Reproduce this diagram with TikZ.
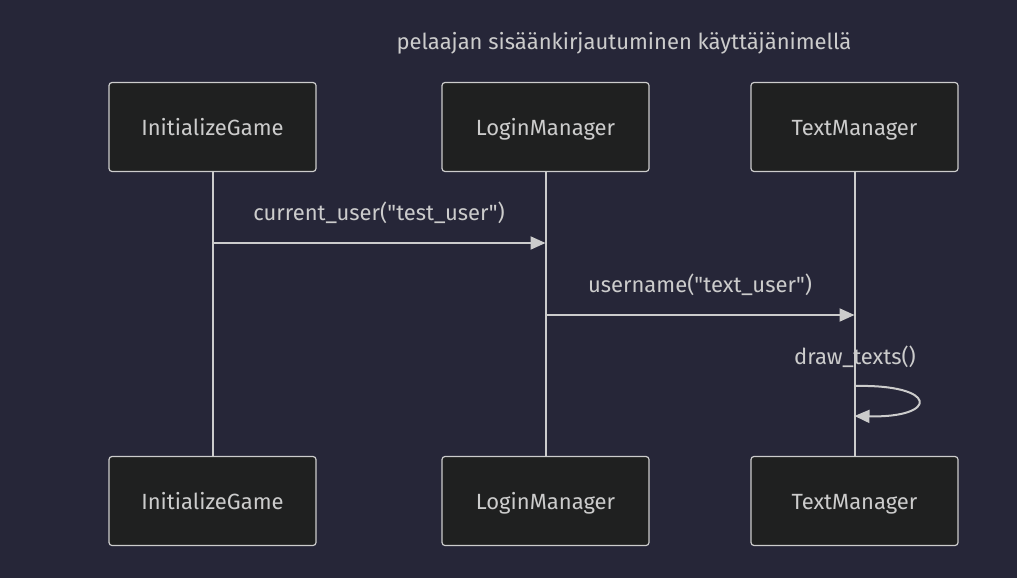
\documentclass[tikz,border=0pt]{standalone}
\usepackage{fontspec}
\setmainfont{Fira Sans}[Ligatures=TeXOff]
\usetikzlibrary{arrows.meta}
\definecolor{bgclr}{RGB}{38,38,56}
\definecolor{boxfill}{RGB}{31,32,32}
\definecolor{lineclr}{RGB}{204,204,204}
\begin{document}
\begin{tikzpicture}[x=1pt,y=-1pt,
    actor/.style={draw=lineclr,fill=boxfill,rounded corners=3pt,line width=1.2pt,
        minimum width=207pt,minimum height=89pt,text=lineclr,
        text height=21pt,text depth=5pt,
        font=\fontsize{22}{26}\selectfont},
    life/.style={draw=lineclr,line width=2pt},
    msg/.style={draw=lineclr,line width=2pt,-{Triangle[length=15pt,width=13pt]}},
    lbl/.style={text=lineclr,font=\fontsize{22}{26}\selectfont}]
        \fill[bgclr] (0,0) rectangle (1017,578);
        \useasboundingbox (0,0) rectangle (1017,578);
        \node[lbl] (title) at (624,43) {pelaajan sisäänkirjautuminen käyttäjänimellä};
        % actors
        \node[actor] (igtop) at (212.5,127) {InitializeGame};
        \node[actor] (lmtop) at (545.5,127) {LoginManager};
        \node[actor] (tmtop) at (854.5,127) {TextManager};
        \node[actor] (igbot) at (212.5,501) {InitializeGame};
        \node[actor] (lmbot) at (545.5,501) {LoginManager};
        \node[actor] (tmbot) at (854.5,501) {TextManager};
        % lifelines
        \draw[life] (igtop) -- (igbot);
        \draw[life] (lmtop) -- (lmbot);
        \draw[life] (tmtop) -- (tmbot);
        % messages
        \coordinate (m1from) at (igtop.south |- 0,243);
        \coordinate (m1to) at (lmtop.south |- 0,243);
        \coordinate (m2from) at (lmtop.south |- 0,315);
        \coordinate (m2to) at (tmtop.south |- 0,315);
        \coordinate (m3from) at (tmtop.south |- 0,386);
        \coordinate (m3to) at (tmtop.south |- 0,416);
        \draw[msg] (m1from) -- (m1to)
            node[lbl,pos=0.5,anchor=center,yshift=30pt] (m1) {current\_user("test\_user")};
        \draw[msg] (m2from) -- (m2to)
            node[lbl,pos=0.5,anchor=center,yshift=30pt] (m2) {username("text\_user")};
        \node[lbl] (m3) at (855,357) {draw\_texts()};
        \draw[msg] (m3from) .. controls (939,384) and (939,418) .. (m3to);
    \end{tikzpicture}
\end{document}
